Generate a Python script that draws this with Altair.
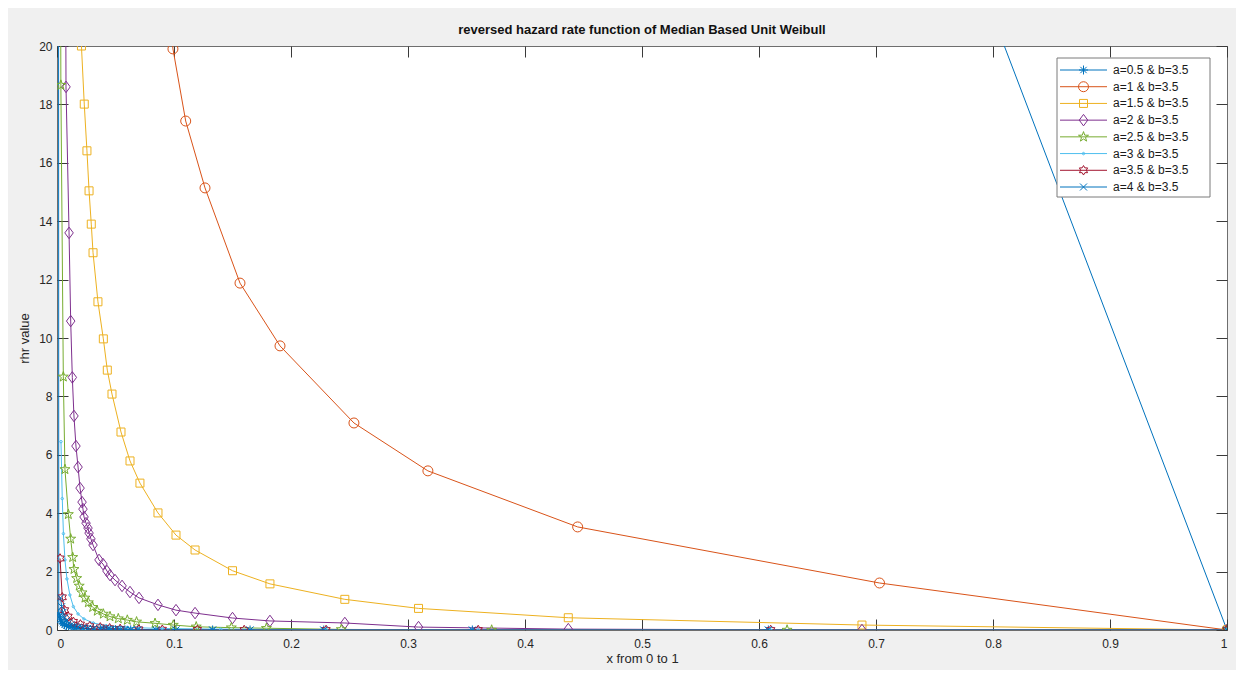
import math
import altair as alt
import pandas as pd

# ---------------- data ----------------
series_labels = [
    "a=0.5  &  b=3.5", "a=1 & b=3.5", "a=1.5  &  b=3.5", "a=2  &  b=3.5",
    "a=2.5  &  b=3.5", "a=3 & b=3.5", "a=3.5  &  b=3.5", "a=4  &   b=3.5",
]
series_colors = ["#0072BD", "#D95319", "#EDB120", "#7E2F8E",
                 "#77AC30", "#4DBEEE", "#A2142F", "#0072BD"]

a05_x = [0.608, 0.355, 0.228, 0.165, 0.133, 0.1017, 0.0846, 0.069, 0.063, 0.058, 0.054, 0.050, 0.046,
         0.043, 0.040, 0.037, 0.031, 0.026, 0.022, 0.018, 0.015, 0.012, 0.010, 0.008, 0.0065, 0.005,
         0.004, 0.003, 0.002, 0.0015, 0.0008, 1.0]
a05_y = [0, 0, 0, 0, 0.001, 0.002, 0.003, 0.004, 0.005, 0.006, 0.008, 0.01, 0.012, 0.015, 0.02, 0.02,
         0.03, 0.04, 0.05, 0.06, 0.08, 0.1, 0.12, 0.15, 0.18, 0.23, 0.28, 0.35, 0.45, 0.55, 105, 0]

a1_x = [0.092, 0.0991, 0.110, 0.1265, 0.1564, 0.1906, 0.2538, 0.317, 0.445, 0.703, 1.0]
a1_y = [23.5, 19.9, 17.43, 15.14, 11.88, 9.73, 7.09, 5.45, 3.53, 1.61, 0.0]

a15_x = [0.0185, 0.0209, 0.0233, 0.0256, 0.0274, 0.0293, 0.0308, 0.0350, 0.0396, 0.0430, 0.0470, 0.0547,
         0.0624, 0.0709, 0.0863, 0.1017, 0.118, 0.150, 0.182, 0.246, 0.309, 0.437, 0.688, 1.0]
a15_y = [23.0, 20.0, 18.01, 16.41, 15.04, 13.90, 12.92, 11.24, 9.97, 8.90, 8.08, 6.78, 5.79, 5.03, 4.01,
         3.25, 2.74, 2.03, 1.58, 1.05, 0.74, 0.42, 0.17, 0.0]

a2_x = [0.0071, 0.0077, 0.0103, 0.0117, 0.0131, 0.0145, 0.0162, 0.018, 0.0197, 0.0214, 0.0222, 0.0231,
        0.0248, 0.0265, 0.0274, 0.029, 0.0308, 0.0359, 0.0393, 0.0427, 0.0453, 0.0496, 0.0556, 0.0624,
        0.0701, 0.0863, 0.1017, 0.118, 0.150, 0.182, 0.246, 0.309, 0.437, 0.688, 1.0]
a2_y = [26.0, 18.6, 13.6, 10.58, 8.65, 7.33, 6.30, 5.58, 4.86, 4.38, 4.14, 3.87, 3.66, 3.49, 3.32, 3.12,
        2.91, 2.40, 2.26, 2.02, 1.88, 1.71, 1.51, 1.30, 1.10, 0.86, 0.68, 0.58, 0.41, 0.31, 0.24, 0.10,
        0.03, 0.0, 0.0]

a25_x = [0.0022, 0.0033, 0.0054, 0.0068, 0.0097, 0.0117, 0.0134, 0.0145, 0.0168, 0.019, 0.0214, 0.0239,
         0.0268, 0.0305, 0.0344, 0.0396, 0.0453, 0.0524, 0.0601, 0.068, 0.0838, 0.0994, 0.119, 0.149,
         0.179, 0.243, 0.3715, 0.624, 1.0]
a25_y = [40.0, 18.66, 8.67, 5.50, 3.96, 3.12, 2.49, 2.08, 1.77, 1.51, 1.28, 1.10, 0.94, 0.78, 0.65, 0.55,
         0.46, 0.39, 0.34, 0.28, 0.23, 0.17, 0.11, 0.08, 0.06, 0.02, 0.0, 0.0, 0.0]

a3_x = [0.0034, 0.0045, 0.0055, 0.0068, 0.0085, 0.011, 0.014, 0.018, 0.023, 0.031, 0.042, 0.06, 0.09,
        0.14, 0.23, 0.36, 0.61, 1.0]
a3_y = [6.45, 4.5, 3.3, 2.4, 1.75, 1.2, 0.8, 0.55, 0.38, 0.24, 0.15, 0.09, 0.05, 0.03, 0.01, 0.0, 0.0, 0.0]

a35_x = [0.0026, 0.0045, 0.0065, 0.0095, 0.014, 0.02, 0.028, 0.037, 0.045, 0.054, 0.07, 0.09, 0.12,
         0.16, 0.23, 0.36, 0.61, 1.0]
a35_y = [2.45, 1.12, 0.68, 0.46, 0.28, 0.19, 0.13, 0.09, 0.06, 0.04, 0.02, 0.01, 0.005, 0.0, 0.0, 0.0,
         0.0, 0.0]

a4_x = [0.003, 0.004, 0.005, 0.0065, 0.008, 0.010, 0.012, 0.015, 0.018, 0.022, 0.026, 0.031, 0.037,
        0.040, 0.043, 0.046, 0.050, 0.054, 0.058, 0.063, 0.069, 0.0846, 0.1017, 0.133, 0.165, 0.228,
        0.355, 0.608, 1.0]
a4_y = [1.1, 0.8, 0.6, 0.42, 0.32, 0.24, 0.18, 0.13, 0.1, 0.07, 0.05, 0.04, 0.03, 0.025, 0.02, 0.015,
        0.012, 0.01, 0.008, 0.006, 0.005, 0.003, 0.002, 0.001, 0, 0, 0, 0, 0]

x_ticks = [0, 0.1, 0.2, 0.3, 0.4, 0.5, 0.6, 0.7, 0.8, 0.9, 1]
y_ticks = [0, 2, 4, 6, 8, 10, 12, 14, 16, 18, 20]

all_x = [a05_x, a1_x, a15_x, a2_x, a25_x, a3_x, a35_x, a4_x]
all_y = [a05_y, a1_y, a15_y, a2_y, a25_y, a3_y, a35_y, a4_y]

rows = []
for lab, xs, ys in zip(series_labels, all_x, all_y):
    for i, (xv, yv) in enumerate(zip(xs, ys)):
        rows.append({"series": lab, "x": xv, "y": yv, "idx": i})
df = pd.DataFrame(rows)

legend_df = pd.DataFrame({"series": series_labels, "rank": list(range(len(series_labels)))})
frame_df = pd.DataFrame({"k": [0]})

# ---------------- marker shapes (MATLAB style) ----------------
def fmt(v):
    return f"{v:.3f}".rstrip("0").rstrip(".") if v != 0 else "0"

def poly(pts):
    return "M" + "L".join(f"{fmt(px)},{fmt(py)}" for px, py in pts) + "Z"

def circle(r):
    return f"M{fmt(-r)},0A{fmt(r)},{fmt(r)},0,1,1,{fmt(r)},0A{fmt(r)},{fmt(r)},0,1,1,{fmt(-r)},0Z"

def star(r, n, inner):
    pts = []
    for k in range(2 * n):
        rr = r if k % 2 == 0 else r * inner
        ang = -math.pi / 2 + k * math.pi / n
        pts.append((rr * math.cos(ang), rr * math.sin(ang)))
    return poly(pts)

def asterisk(r):
    d = r * 0.7
    return (f"M{fmt(-r)},0L{fmt(r)},0M0,{fmt(-r)}L0,{fmt(r)}"
            f"M{fmt(-d)},{fmt(-d)}L{fmt(d)},{fmt(d)}M{fmt(-d)},{fmt(d)}L{fmt(d)},{fmt(-d)}")

def xmark(r):
    return f"M{fmt(-r)},{fmt(-r)}L{fmt(r)},{fmt(r)}M{fmt(-r)},{fmt(r)}L{fmt(r)},{fmt(-r)}"

def markers(s):
    return [
        asterisk(0.9 * s),
        circle(1.0 * s),
        poly([(-0.8 * s, -0.8 * s), (0.8 * s, -0.8 * s), (0.8 * s, 0.8 * s), (-0.8 * s, 0.8 * s)]),
        poly([(0, -1.15 * s), (0.85 * s, 0), (0, 1.15 * s), (-0.85 * s, 0)]),
        star(1.05 * s, 5, 0.4),
        circle(0.25 * s),
        star(0.95 * s, 6, 0.58),
        xmark(0.7 * s),
    ]

point_shapes = markers(1.0)

# ---------------- chart ----------------
FONT = "Liberation Sans"
TXT = "#262626"
TICK = "#3a3a3a"

xscale = alt.Scale(domain=[0, 1], nice=False, zero=False)
yscale = alt.Scale(domain=[0, 20], nice=False, zero=False)
cscale = alt.Scale(domain=series_labels, range=series_colors)
sscale = alt.Scale(domain=series_labels, range=point_shapes)
rank_scale = alt.Scale(type="point", domain=list(range(len(series_labels))), range=[24, 141], padding=0)

x_lab_axis = alt.Axis(orient="bottom", values=x_ticks, format="~g", grid=False, domain=False, ticks=False,
                      labelPadding=8, labelFont=FONT, labelFontSize=12, labelColor=TXT,
                      title="x from 0 to 1", titleFont=FONT, titleFontSize=13, titleFontWeight="normal",
                      titleColor=TXT, titlePadding=3)
y_lab_axis = alt.Axis(orient="left", values=y_ticks, format="~g", grid=False, domain=False, ticks=False,
                      labelPadding=5, labelFont=FONT, labelFontSize=12, labelColor=TXT,
                      title="rhr value", titleFont=FONT, titleFontSize=13, titleFontWeight="normal",
                      titleColor=TXT, titlePadding=7)

def tick_axis(orient, vals):
    return alt.Axis(orient=orient, values=vals, grid=False, domain=False, labels=False, title=None,
                    ticks=True, tickSize=11, offset=-11, tickColor=TICK, tickWidth=1)

base = alt.Chart(df)

lines = base.mark_line(clip=True, strokeWidth=1).encode(
    x=alt.X("x:Q", scale=xscale, axis=x_lab_axis),
    y=alt.Y("y:Q", scale=yscale, axis=y_lab_axis),
    color=alt.Color("series:N", scale=cscale, legend=None),
    order=alt.Order("idx:Q"),
)

points = base.mark_point(clip=True, filled=False, size=100, strokeWidth=1, opacity=1).encode(
    x=alt.X("x:Q", scale=xscale, axis=tick_axis("bottom", x_ticks)),
    y=alt.Y("y:Q", scale=yscale, axis=tick_axis("left", y_ticks)),
    color=alt.Color("series:N", scale=cscale, legend=None),
    shape=alt.Shape("series:N", scale=sscale, legend=None),
)

frame = base.mark_point(opacity=0, clip=True).encode(
    x=alt.X("x:Q", scale=xscale, axis=tick_axis("top", x_ticks)),
    y=alt.Y("y:Q", scale=yscale, axis=tick_axis("right", y_ticks)),
)

# ---- MATLAB-style legend box (line + marker + label) ----
leg_box = alt.Chart(frame_df).mark_rect(fill="white", stroke="#7a7a7a", strokeWidth=1).encode(
    x=alt.value(1000), x2=alt.value(1153), y=alt.value(12), y2=alt.value(151),
)
leg_lines = alt.Chart(legend_df).mark_rule(strokeWidth=1).encode(
    x=alt.value(1003), x2=alt.value(1050),
    y=alt.Y("rank:O", scale=rank_scale, axis=None),
    color=alt.Color("series:N", scale=cscale, legend=None),
)
leg_marks = alt.Chart(legend_df).mark_point(filled=False, size=100, strokeWidth=1, opacity=1).encode(
    x=alt.value(1026.5),
    y=alt.Y("rank:O", scale=rank_scale, axis=None),
    color=alt.Color("series:N", scale=cscale, legend=None),
    shape=alt.Shape("series:N", scale=sscale, legend=None),
)
leg_text = alt.Chart(legend_df).mark_text(
    align="left", baseline="middle", font=FONT, fontSize=12, color="#1a1a1a",
).encode(
    x=alt.value(1056),
    y=alt.Y("rank:O", scale=rank_scale, axis=None),
    text="series:N",
)

chart = alt.layer(lines, points, frame, leg_box, leg_lines, leg_marks, leg_text).resolve_axis(
    x="independent", y="independent"
).resolve_scale(
    y="independent"
).properties(
    width=1170, height=584,
    autosize=alt.AutoSizeParams(type="none"),
    padding={"left": 49, "top": 38, "right": 9, "bottom": 40},
    background="#f0f0f0",
    title=alt.TitleParams(
        "reversed hazard rate function of Median Based Unit Weibull",
        font=FONT, fontSize=13, fontWeight="bold", color="#111111", anchor="middle", offset=3,
        frame="group",
    ),
).configure_view(stroke="#6e6e6e", strokeWidth=1, fill="white")

chart.save("out.html", embed_options={"renderer": "svg", "actions": False})
